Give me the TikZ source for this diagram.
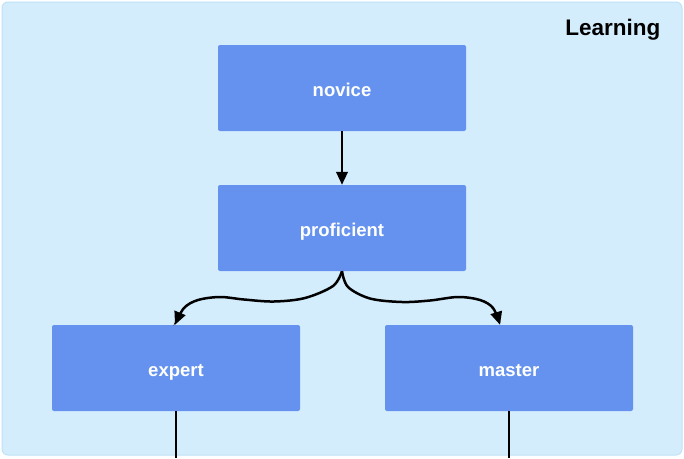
\documentclass[tikz,border=0pt]{standalone}
\usepackage{fontspec}
\setmainfont{Liberation Sans}
\usetikzlibrary{arrows.meta,calc}
\definecolor{bgblue}{RGB}{212,237,253}
\definecolor{bgedge}{RGB}{192,226,246}
\definecolor{boxblue}{RGB}{100,146,238}
\begin{document}
\begin{tikzpicture}[x=1pt,y=-1pt,
  stage/.style={rectangle, rounded corners=2pt, fill=boxblue, minimum width=248pt, minimum height=86pt, inner sep=0pt, text height=16pt, text depth=0pt, font=\fontsize{18.5}{20}\selectfont\bfseries, text=white},
  link/.style={line width=2.5pt, -{Triangle[length=13pt,width=11.5pt]}},
  plain/.style={line width=2.5pt}]
\useasboundingbox (0,0) rectangle (684,458);
\fill[white] (0,0) rectangle (684,458);
\draw[bgedge, fill=bgblue, line width=1pt, rounded corners=6pt] (2,2) rectangle (682,455);
\node[anchor=base east, font=\fontsize{22.5}{24}\selectfont\bfseries] (title) at (664,35) {Learning};
\node[stage] (novice) at (342,88) {novice};
\node[stage] (proficient) at (342,228) {proficient};
\node[stage] (expert) at (176,368) {expert};
\node[stage] (master) at (509,368) {master};
\coordinate (bottom) at (0,458);
\coordinate (et) at ($(expert.north)+(-1,0)$);
\coordinate (mt) at ($(master.north)+(-9,0)$);
\draw[link] (novice) -- (proficient);
\draw[link] plot[smooth, tension=0.55] coordinates {(proficient.south) (333,286) (305,298) (274,301.5) (244,299.5) (220,297) (198,300) (184,308) (et)};
\draw[link] plot[smooth, tension=0.55] coordinates {(proficient.south) (348,287) (370,298.5) (402,302) (430,300.5) (458,297) (480,300) (493,308) (mt)};
\draw[plain] (expert.south) -- (expert.south |- bottom);
\draw[plain] (master.south) -- (master.south |- bottom);
\end{tikzpicture}
\end{document}
